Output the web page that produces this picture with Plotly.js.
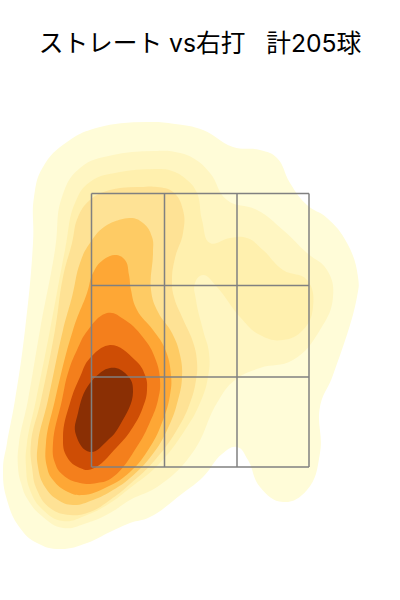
<!DOCTYPE html>
<html><head><meta charset="utf-8">
<script src="https://cdn.plot.ly/plotly-3.0.1.min.js"></script>
<style>html,body{margin:0;padding:0;background:#fff}</style></head>
<body><div id="chart" style="width:400px;height:600px"></div>
<script>
const titleText = 'ストレート vs右打\u00a0\u00a0\u00a0計205球';
const level1 = [[147,122],[100,127],[67,142],[43,167],[34,197],[33,243],[25,330],[15,400],[7,443],[3,470],[7,500],[20,528],[37,543],[60,549],[87,543],[110,532],[130,523],[150,517],[183,493],[203,477],[222,454],[237,447],[248,460],[260,487],[283,502],[307,490],[320,453],[320,407],[333,375],[357,297],[358,277],[347,243],[327,218],[307,205],[290,183],[277,158],[260,150],[233,147],[203,130],[175,124]];
const level2 = [[157,151],[113,155],[80,168],[62,197],[55,250],[40,330],[28,400],[19,443],[18,467],[21,483],[28,500],[43,517],[63,528],[87,523],[110,513],[130,500],[160,485],[193,452],[217,403],[235,380],[260,368],[293,360],[320,330],[333,297],[327,270],[307,253],[283,230],[257,210],[227,200],[210,173],[193,158],[175,152]];
const level3 = [[157,169],[120,172],[90,182],[75,203],[65,250],[50,330],[36,400],[27,443],[26,467],[30,490],[43,510],[63,521],[87,515],[110,503],[130,488],[158,465],[185,430],[200,403],[208,377],[209,353],[203,330],[196,300],[195,283],[203,275],[217,287],[240,317],[260,335],[283,340],[303,330],[313,307],[307,280],[283,270],[263,250],[247,238],[230,238],[210,243],[202,220],[197,193],[187,180],[172,171]];
const level4 = [[140,187],[110,190],[90,200],[78,217],[72,243],[63,277],[55,330],[41,400],[31,443],[32,467],[37,490],[50,508],[70,515],[90,512],[110,500],[130,484],[155,460],[178,428],[190,403],[196,380],[197,362],[193,342],[182,317],[174,297],[172,280],[175,258],[183,233],[183,210],[173,192],[157,187]];
const level5 = [[130,218],[107,225],[90,243],[80,263],[72,297],[63,330],[48,400],[38,443],[38,467],[45,487],[58,500],[73,505],[93,500],[113,490],[130,478],[152,455],[168,428],[178,400],[182,377],[180,355],[172,333],[158,312],[151,290],[153,253],[152,237],[143,223]];
const level6 = [[115,255],[103,260],[93,273],[87,293],[73,330],[55,400],[46,443],[47,467],[53,480],[68,492],[83,495],[107,487],[130,472],[150,447],[163,420],[170,395],[171,375],[165,349],[153,330],[137,310],[131,290],[129,275],[125,260]];
const level7 = [[107,313],[88,330],[77,350],[68,373],[62,400],[53,443],[55,463],[63,475],[80,483],[97,483],[113,477],[138,445],[150,422],[158,400],[160,380],[155,358],[145,340],[125,320]];
const level8 = [[110,345],[90,358],[80,377],[70,403],[63,437],[67,457],[80,468],[92,469],[117,447],[133,427],[143,407],[147,390],[145,375],[135,360]];
const level9 = [[110,368],[90,383],[78,413],[76,435],[90,452],[108,440],[120,425],[133,392],[127,375]];
const levels = [level1,level2,level3,level4,level5,level6,level7,level8,level9];
const levelColors = ['#fffcd8','#fff6c2','#fff0ae','#fee295','#fecb64','#fea735','#f47f1c','#ce4d05','#8a2f04'];
const zoneX = [91.5,164.5,237,309];
const zoneY = [193.5,285.5,377,467];

const traces = levels.map((pts,i)=>({
  type:'scatter',mode:'lines',fill:'toself',fillcolor:levelColors[i],
  x:pts.concat([pts[0],pts[1]]).map(p=>p[0]),y:pts.concat([pts[0],pts[1]]).map(p=>p[1]),
  line:{width:0,shape:'spline',smoothing:1.3,color:levelColors[i]},hoverinfo:'skip',showlegend:false
}));
const lineStyle = {color:'#808080',width:1.5};
zoneX.forEach(x=>traces.push({type:'scatter',mode:'lines',x:[x,x],y:[zoneY[0],zoneY[3]],line:lineStyle,hoverinfo:'skip',showlegend:false}));
zoneY.forEach(y=>traces.push({type:'scatter',mode:'lines',x:[zoneX[0],zoneX[3]],y:[y,y],line:lineStyle,hoverinfo:'skip',showlegend:false}));

Plotly.newPlot('chart',traces,{
  width:400,height:600,margin:{l:0,r:0,t:0,b:0},
  paper_bgcolor:'#fff',plot_bgcolor:'#fff',showlegend:false,
  title:{text:titleText,x:0.5,xanchor:'center',y:0.928,yanchor:'middle',font:{family:'Inter,"Noto Sans CJK JP",sans-serif',size:24.7,color:'#000'}},
  xaxis:{range:[0,400],visible:false,fixedrange:true},
  yaxis:{range:[600,0],visible:false,fixedrange:true}
},{displayModeBar:false,staticPlot:true});
</script></body></html>
